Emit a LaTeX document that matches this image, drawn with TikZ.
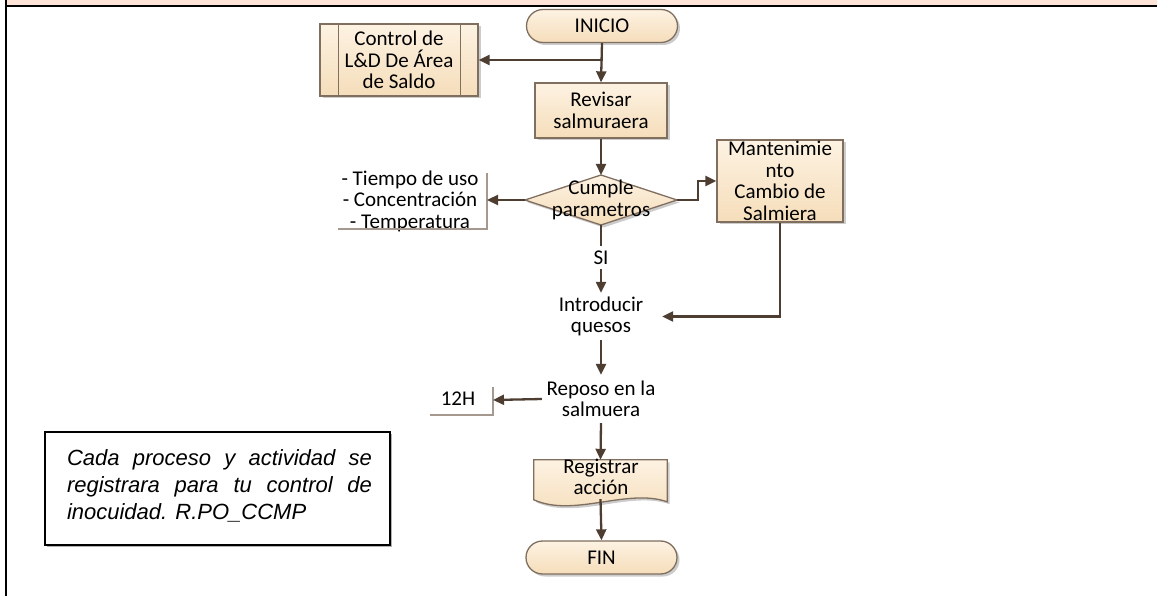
\documentclass[tikz,border=0pt]{standalone}
\usepackage{fontspec}
\setmainfont{Carlito}
\newfontfamily\arialfont{Liberation Sans}
\usetikzlibrary{arrows.meta,shapes.misc,shadows,calc}
\definecolor{band}{RGB}{253,228,214}
\definecolor{fillA}{RGB}{253,242,226}
\definecolor{fillB}{RGB}{245,221,186}
\definecolor{edge}{RGB}{128,110,95}
\definecolor{arr}{RGB}{78,62,50}
\definecolor{brk}{RGB}{165,152,142}
\begin{document}
\begin{tikzpicture}[x=1pt,y=-1pt,
  every node/.style={font=\fontsize{21}{21.5}\selectfont, text=black},
  shp/.style={draw=edge, line width=1.3pt, top color=fillA, bottom color=fillB,
    drop shadow={shadow xshift=2.5pt, shadow yshift=-2.5pt, fill=black, opacity=0.2}},
  term/.style={shp, rounded rectangle, minimum width=151pt, minimum height=33pt, inner sep=0pt},
  proc/.style={shp, rectangle, inner sep=0pt, align=center},
  lbl/.style={align=center, inner sep=0pt},
  flow/.style={draw=arr, line width=2.3pt, -{Triangle[length=11pt,width=10pt]}},
  plain/.style={draw=arr, line width=2.3pt},
  bracket/.style={draw=brk, line width=2pt},
  inner/.style={draw=edge, line width=1.3pt},
]
\useasboundingbox (0,0) rectangle (1157,596);
% frame
\fill[band] (7,0) rectangle (1157,5.5);
\draw[black, line width=2.4pt] (5,6.3) -- (1157,6.3);
\draw[black, line width=2.4pt] (6,0) -- (6,596);

% nodes
\node[term] (ini) at (602,26) {INICIO};
\node[proc, minimum width=158pt, minimum height=72pt] (ctl) at (399,60) {Control de\\L\&D De Área\\de Saldo};
\draw[inner] ($(ctl.north west)+(19,0)$) -- ($(ctl.south west)+(19,0)$);
\draw[inner] ($(ctl.north east)+(-18,0)$) -- ($(ctl.south east)+(-18,0)$);
\node[proc, minimum width=132pt, minimum height=55pt] (rev) at (601,110.5) {Revisar\\salmuraera};

\coordinate (dL) at (525,200);
\coordinate (dT) at (601,175);
\coordinate (dR) at (677,200);
\coordinate (dB) at (601,225);
\path[shp] (dL) -- (dT) -- (dR) -- (dB) -- cycle;
\node[lbl] (dtxt) at (601,200) {Cumple\\parametros};

\node[proc, minimum width=126pt, minimum height=82pt] (man) at (780,181) {Mantenimie\\nto\\Cambio de\\Salmiera};

\node[lbl] (ann) at (410,201) {- Tiempo de uso\\- Concentración\\- Temperatura};
\coordinate (annT) at (487,173);
\coordinate (annB) at (487,229);
\coordinate (annL) at (338,229);
\coordinate (annR) at (487,200);
\draw[bracket] (annT) -- (annB) -- (annL);

\node[lbl] (si) at (601,258) {SI};
\node[lbl, minimum width=122pt, minimum height=47pt] (intro) at (601,316.5) {Introducir\\quesos};
\node[lbl, minimum width=118pt, minimum height=48pt] (rep) at (601,399) {Reposo en la\\salmuera};

\node[lbl] (h12) at (458,399) {12H};
\coordinate (hT) at (493,387);
\coordinate (hB) at (493,415);
\coordinate (hL) at (430,415);
\coordinate (hR) at (493,400);
\draw[bracket] (hT) -- (hB) -- (hL);

\node[lbl, minimum width=133pt, minimum height=40pt] (reg) at (600.5,480) {};
\path[shp] (reg.north west) -- (reg.north east) -- ($(reg.north east)+(0,42)$)
  .. controls ($(reg.north east)+(-40,28)$) and ($(reg.north west)+(40,58)$) .. ($(reg.north west)+(0,40)$) -- cycle;
\node[lbl] (regtxt) at (601,477) {Registrar\\acción};

\node[term] (fin) at (601.5,557.5) {FIN};

% note
\node[draw=black, line width=1.3pt, minimum width=345pt, minimum height=113pt,
  drop shadow={shadow xshift=1.5pt, shadow yshift=-1.5pt, fill=black, opacity=0.3}, fill=white] (note) at (217.5,488.5) {};
\node[lbl, align=left, font=\arialfont\itshape\fontsize{22}{27}\selectfont] (notetxt) at (219.5,486) {\makebox[305pt][s]{Cada proceso y actividad se}\\\makebox[305pt][s]{registrara para tu control de}\\inocuidad. R.PO\_CCMP};

% connectors
\draw[flow] (ini.south) -- (rev.north);
\draw[flow] (ini.south) |- (ctl.east);
\draw[flow] (rev.south) -- (dT);
\draw[flow] (dL) -- (annR);
\draw[flow] (dR) -- ++(21,0) |- (man.west);
\draw[plain, shorten >=5pt] (dB) -- (si.north);
\draw[flow, shorten <=4pt] (si.south) -- (intro.north);
\draw[flow] (man.south) |- (intro.east);
\draw[flow] (intro.south) -- (rep.north);
\draw[flow] (rep.west) -- (hR);
\draw[flow] (rep.south) -- (reg.north);
\draw[flow] ($(reg.south)+(0,-1)$) -- (fin.north);
\end{tikzpicture}
\end{document}
